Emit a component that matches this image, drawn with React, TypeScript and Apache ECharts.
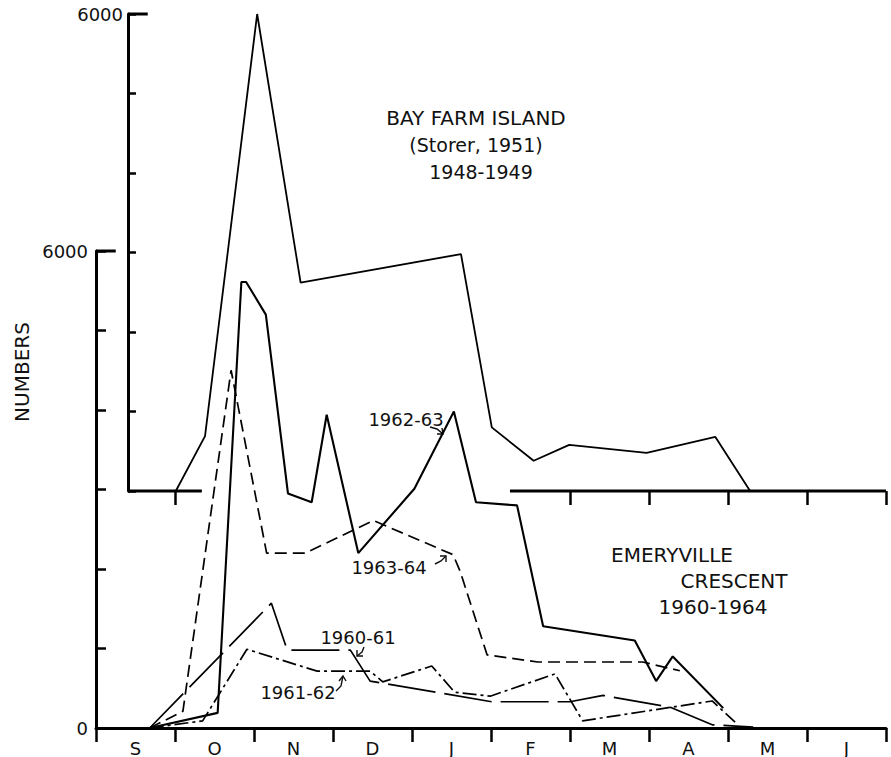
import React, { useEffect, useRef } from "react";
import * as echarts from "echarts";

// x positions are in months since 1 September (0 = start of Sep, 10 = end of Jun)
const monthLabels = ["S", "O", "N", "D", "J", "F", "M", "A", "M", "J"];

// Bay Farm Island (Storer, 1951) 1948-1949 — upper panel
const bayFarmX = [1.01, 1.38, 2.04, 2.59, 4.62, 5.01, 5.54, 5.99, 6.97, 7.84, 8.28];
const bayFarmY = [0, 690, 6000, 2620, 2980, 800, 380, 580, 480, 680, 0];

// Emeryville Crescent 1960-1964 — lower panel
const s6061X = [0.68, 2.22, 2.42, 3.22, 3.47, 5.01, 6.0, 6.42, 7.27, 7.8, 8.32];
const s6061Y = [0, 1570, 980, 980, 590, 330, 330, 410, 260, 40, 10];

const s6162X = [0.68, 1.35, 1.91, 2.8, 3.47, 3.63, 4.25, 4.54, 4.99, 5.81, 6.0, 6.16, 7.8, 8.09];
const s6162Y = [0, 90, 990, 715, 715, 580, 780, 450, 400, 680, 360, 90, 340, 75];

const s6263X = [0.68, 1.54, 1.84, 1.9, 2.15, 2.43, 2.73, 2.92, 3.32, 4.03, 4.53, 4.81, 5.33, 5.66, 6.82, 7.09, 7.3, 7.94];
const s6263Y = [0, 190, 5610, 5610, 5200, 2950, 2840, 3940, 2200, 3010, 3980, 2840, 2800, 1280, 1100, 590, 900, 250];

const s6364X = [0.68, 1.1, 1.71, 2.16, 2.65, 3.51, 4.52, 4.61, 4.95, 5.59, 6.92, 7.39];
const s6364Y = [0, 210, 4500, 2200, 2200, 2610, 2180, 1970, 920, 830, 830, 720];

// upper panel baseline is broken where the lower curves pass through
const upperBaseSegA = [0.405, 1.34];
const upperBaseSegB = [5.24, 10];
const upperXMin = 0.405;
const upperTickValues = [1, 6, 7, 8, 9, 10];

const FONT = "DejaVu Sans";
const INK = "#111";

const zip = (xs: number[], ys: number[]) => xs.map((x, i) => [x, ys[i]]);

export default function App() {
  const ref = useRef<HTMLDivElement>(null);

  useEffect(() => {
    if (!ref.current) return;
    const chart = echarts.init(ref.current, undefined, { renderer: "svg" });

    const lineBase = {
      type: "line" as const,
      symbol: "none",
      clip: false,
      silent: true,
    };

    const txt = (x: number, y: number, text: string, size = 17, align = "center") => ({
      type: "text",
      x,
      y,
      style: {
        text,
        fill: INK,
        font: `${size}px "${FONT}"`,
        align,
        verticalAlign: "middle",
      },
    });

    const arrow = (pts: number[][], head: number[][]) => [
      { type: "polyline", shape: { points: pts }, style: { stroke: INK, lineWidth: 1.4, fill: null } },
      { type: "polyline", shape: { points: head }, style: { stroke: INK, lineWidth: 1.4, fill: null } },
    ];

    chart.setOption({
      animation: false,
      backgroundColor: "#fff",
      grid: [
        { left: 96, right: 5, top: 251, height: 478 },
        { left: 128, right: 5, top: 14, height: 477 },
      ],
      xAxis: [
        { gridIndex: 0, type: "value", min: 0, max: 10, show: false, position: "top" },
        {
          gridIndex: 0,
          type: "category",
          data: monthLabels,
          boundaryGap: true,
          position: "bottom",
          axisLine: { show: true, lineStyle: { color: "#000", width: 3 } },
          axisTick: { show: true, interval: 0, length: 14, lineStyle: { color: "#000", width: 2.5 } },
          axisLabel: { interval: 0, margin: 11, color: INK, fontSize: 18, fontFamily: FONT },
          splitLine: { show: false },
        },
        {
          gridIndex: 1,
          type: "value",
          min: upperXMin,
          max: 10,
          axisLine: { show: false },
          axisTick: {
            show: true,
            customValues: upperTickValues,
            length: 14,
            lineStyle: { color: "#000", width: 2.5 },
          },
          axisLabel: { show: false },
          splitLine: { show: false },
        },
      ],
      yAxis: [
        {
          gridIndex: 0,
          type: "value",
          min: 0,
          max: 6000,
          interval: 1000,
          axisLine: { show: true, lineStyle: { color: "#000", width: 3 } },
          axisTick: { show: true, inside: true, length: 10, lineStyle: { color: "#000", width: 2.5 } },
          axisLabel: {
            margin: 8,
            color: INK,
            fontSize: 18,
            fontFamily: FONT,
            formatter: (v: number) => (v === 0 || v === 6000 ? String(v) : ""),
          },
          splitLine: { show: false },
        },
        {
          gridIndex: 1,
          type: "value",
          min: 0,
          max: 6000,
          interval: 1000,
          axisLine: { show: true, lineStyle: { color: "#000", width: 3 } },
          axisTick: { show: true, inside: true, length: 8, lineStyle: { color: "#000", width: 2.5 } },
          axisLabel: {
            margin: 5,
            color: INK,
            fontSize: 18,
            fontFamily: FONT,
            formatter: (v: number) => (v === 6000 ? "6000" : ""),
          },
          splitLine: { show: false },
        },
      ],
      series: [
        {
          ...lineBase,
          name: "Bay Farm Island 1948-1949",
          xAxisIndex: 2,
          yAxisIndex: 1,
          data: zip(bayFarmX, bayFarmY),
          lineStyle: { color: "#000", width: 1.8 },
        },
        {
          ...lineBase,
          name: "upper baseline a",
          xAxisIndex: 2,
          yAxisIndex: 1,
          data: upperBaseSegA.map((x) => [x, 0]),
          lineStyle: { color: "#000", width: 3 },
        },
        {
          ...lineBase,
          name: "upper baseline b",
          xAxisIndex: 2,
          yAxisIndex: 1,
          data: upperBaseSegB.map((x) => [x, 0]),
          lineStyle: { color: "#000", width: 3 },
        },
        {
          ...lineBase,
          name: "upper cap",
          xAxisIndex: 2,
          yAxisIndex: 1,
          data: [[upperXMin, 6000], [upperXMin + 0.25, 6000]],
          lineStyle: { color: "#000", width: 3 },
        },
        {
          ...lineBase,
          name: "lower cap",
          xAxisIndex: 0,
          yAxisIndex: 0,
          data: [[0, 6000], [0.25, 6000]],
          lineStyle: { color: "#000", width: 3 },
        },
        {
          ...lineBase,
          name: "1960-61",
          xAxisIndex: 0,
          yAxisIndex: 0,
          data: zip(s6061X, s6061Y),
          lineStyle: { color: "#000", width: 1.7, type: [48, 9] },
        },
        {
          ...lineBase,
          name: "1961-62",
          xAxisIndex: 0,
          yAxisIndex: 0,
          data: zip(s6162X, s6162Y),
          lineStyle: { color: "#000", width: 1.7, type: [14, 4, 3, 4] },
        },
        {
          ...lineBase,
          name: "1962-63",
          xAxisIndex: 0,
          yAxisIndex: 0,
          data: zip(s6263X, s6263Y),
          lineStyle: { color: "#000", width: 2.1 },
        },
        {
          ...lineBase,
          name: "1963-64",
          xAxisIndex: 0,
          yAxisIndex: 0,
          data: zip(s6364X, s6364Y),
          lineStyle: { color: "#000", width: 1.7, type: [12, 6] },
        },
      ],
      graphic: [
        txt(476, 118, "BAY FARM ISLAND", 20),
        txt(476, 145, "(Storer, 1951)", 19),
        txt(481, 172, "1948-1949", 19),
        txt(406, 419, "1962-63", 18),
        txt(389, 567, "1963-64", 18),
        txt(358, 637, "1960-61", 18),
        txt(298, 692, "1961-62", 18),
        txt(672, 555, "EMERYVILLE", 20),
        txt(734, 581, "CRESCENT", 20),
        txt(713, 607, "1960-1964", 20),
        {
          type: "text",
          x: 22,
          y: 372,
          rotation: Math.PI / 2,
          style: {
            text: "NUMBERS",
            fill: INK,
            font: `20px "${FONT}"`,
            align: "center",
            verticalAlign: "middle",
          },
        },
        ...arrow([[430, 427], [437, 429], [443, 434]], [[437, 434], [443, 434], [442, 428]]),
        ...arrow([[435, 564], [441, 561], [446, 556]], [[440, 556], [446, 556], [446, 562]]),
        ...arrow([[364, 647], [362, 652], [357, 656]], [[357, 650], [357, 656], [363, 656]]),
        ...arrow([[336, 691], [341, 686], [343, 676]], [[339, 681], [343, 676], [346, 681]]),
      ],
    });

    return () => chart.dispose();
  }, []);

  return (
    <div
      ref={ref}
      style={{ position: "fixed", left: 0, top: 0, width: 891, height: 757, background: "#fff" }}
    />
  );
}
